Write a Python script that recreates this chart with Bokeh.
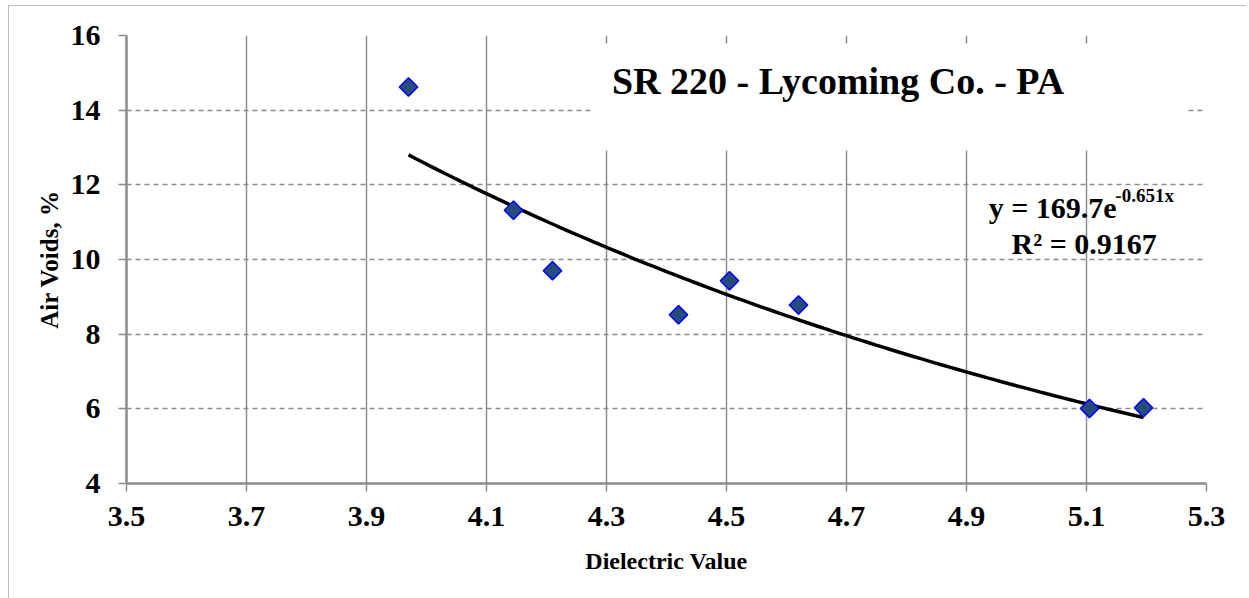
import numpy as np
from bokeh.plotting import figure
from bokeh.models import FixedTicker, Label, BoxAnnotation, ColumnDataSource
from bokeh.embed import file_html
from bokeh.resources import INLINE

# Data
dielectric = [3.97, 4.145, 4.21, 4.42, 4.505, 4.62, 5.105, 5.195]
air_voids = [14.62, 11.32, 9.70, 8.52, 9.43, 8.78, 6.01, 6.03]

# Trendline (exponential fit shown on chart)
fit_a = 169.7
fit_b = -0.651
r2 = 0.9167

x_ticks = [3.5, 3.7, 3.9, 4.1, 4.3, 4.5, 4.7, 4.9, 5.1, 5.3]
y_ticks = [4, 6, 8, 10, 12, 14, 16]

title_text = "SR 220 - Lycoming Co. - PA"
x_label = "Dielectric Value"
y_label = "Air Voids, %"

FONT = "Liberation Serif"
GRAY = "#8c8c8c"

p = figure(width=1238, height=600, output_backend="svg", toolbar_location=None,
           x_range=(3.5, 5.3), y_range=(4, 16),
           min_border_left=118, min_border_right=40, min_border_top=30, min_border_bottom=122)
p.margin = (5, 0, 0, 8)
p.styles = {"outline": "1.5px solid #a6a6a6", "outline-offset": "-1px"}
p.outline_line_color = None
p.background_fill_color = "white"
p.border_fill_color = "white"

# axes
for ax in (p.xaxis[0], p.yaxis[0]):
    ax.axis_line_color = GRAY
    ax.axis_line_width = 2.5
    ax.major_tick_line_color = GRAY
    ax.major_tick_line_width = 1.5
    ax.major_tick_in = 0
    ax.major_tick_out = 8
    ax.minor_tick_line_color = None
    ax.major_label_text_font = FONT
    ax.major_label_text_font_style = "bold"
    ax.major_label_text_font_size = "30px"
    ax.major_label_text_color = "black"
    ax.axis_label_text_font = FONT
    ax.axis_label_text_font_style = "bold"
    ax.axis_label_text_font_size = "24px"
    ax.axis_label_text_color = "black"

p.yaxis.axis_label_text_font_size = "25px"
p.xaxis.ticker = FixedTicker(ticks=x_ticks)
p.yaxis.ticker = FixedTicker(ticks=y_ticks)
p.xaxis.axis_label = x_label
p.yaxis.axis_label = y_label
p.xaxis.major_label_standoff = 15
p.yaxis.major_label_standoff = 18
p.xaxis.axis_label_standoff = 19
p.yaxis.axis_label_standoff = 5

# grids
p.xgrid.ticker = FixedTicker(ticks=x_ticks)
p.ygrid.ticker = FixedTicker(ticks=y_ticks)
p.xgrid.grid_line_color = GRAY
p.xgrid.grid_line_width = 1.5
p.ygrid.grid_line_color = GRAY
p.ygrid.grid_line_width = 1.5
p.ygrid.grid_line_dash = "5 4"

# white box behind title (covers grid)
p.add_layout(BoxAnnotation(left=4.273, right=5.265, top=15.79, bottom=12.92,
                           fill_color="white", fill_alpha=1.0, line_alpha=0,
                           level="underlay"))

# trendline
tx = np.linspace(min(dielectric), max(dielectric), 100)
ty = fit_a * np.exp(fit_b * tx)
p.line(tx, ty, line_color="black", line_width=3.5)

# points
src = ColumnDataSource(dict(x=dielectric, y=air_voids))
p.scatter("x", "y", source=src, marker="square", size=13, angle=np.pi / 4,
          fill_color="#254c7d", line_color="#0000ff", line_width=1.5)

# title
p.add_layout(Label(x=4.686, y=14.77, text=title_text, text_font=FONT, text_font_style="bold",
                   text_font_size="38px", text_align="center", text_baseline="middle",
                   text_color="black"))

# equation
p.add_layout(Label(x=4.937, y=11.39, text="y = %.1fe" % fit_a, text_font=FONT,
                   text_font_style="bold", text_font_size="30px", text_align="left",
                   text_baseline="alphabetic", text_color="black"))
p.add_layout(Label(x=5.148, y=11.72, text="%.3fx" % fit_b, text_font=FONT,
                   text_font_style="bold", text_font_size="19px", text_align="left",
                   text_baseline="alphabetic", text_color="black"))
p.add_layout(Label(x=5.096, y=10.43, text="R\u00b2 = %.4f" % r2, text_font=FONT,
                   text_font_style="bold", text_font_size="30px", text_align="center",
                   text_baseline="alphabetic", text_color="black"))

open("out.html", "w").write(file_html(p, INLINE))
